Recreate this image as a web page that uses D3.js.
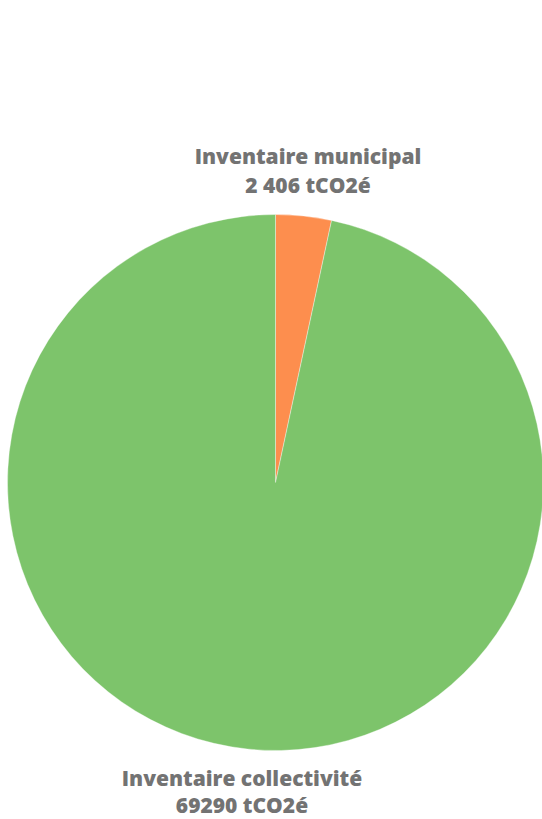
<!DOCTYPE html>
<html>
<head>
<meta charset="utf-8">
<script src="https://cdn.jsdelivr.net/npm/d3@7"></script>
<style>
  html, body { margin: 0; padding: 0; background: #ffffff; }
  svg { display: block; }
</style>
</head>
<body>
<svg id="chart" width="542" height="819"></svg>
<script>
// Emission inventories (tCO2e)
const categories = ["Inventaire municipal", "Inventaire collectivité"];
const values = [2406, 69290];
const valueLabels = ["2 406 tCO2é", "69290 tCO2é"];
const colors = ["#fd8e4e", "#7dc46b"];

const svg = d3.select("#chart");
const cx = 275.5, cy = 482.5, radius = 268;

const pie = d3.pie().sort(null).value(d => d.value);
const arc = d3.arc().innerRadius(0).outerRadius(radius);

const data = categories.map((c, i) => ({ name: c, value: values[i], label: valueLabels[i], color: colors[i] }));
const arcs = pie(data);

const g = svg.append("g").attr("transform", `translate(${cx},${cy})`);
g.selectAll("path")
  .data(arcs)
  .join("path")
  .attr("d", arc)
  .attr("fill", d => d.data.color)
  .attr("stroke", "#ffffff")
  .attr("stroke-width", 0.6)
  .attr("stroke-opacity", 0.6);

// Labels outside the pie
const labelPos = [
  { x: 308, y1: 164, y2: 193 },
  { x: 242, y1: 786, y2: 813 }
];
const labels = svg.append("g")
  .attr("font-family", "'Open Sans', sans-serif")
  .attr("font-weight", 800)
  .attr("font-size", 21)
  .attr("fill", "#737373")
  .attr("text-anchor", "middle");

arcs.forEach((a, i) => {
  const p = labelPos[i];
  labels.append("text").attr("x", p.x).attr("y", p.y1).text(a.data.name);
  labels.append("text").attr("x", p.x).attr("y", p.y2).text(a.data.label);
});
</script>
</body>
</html>
